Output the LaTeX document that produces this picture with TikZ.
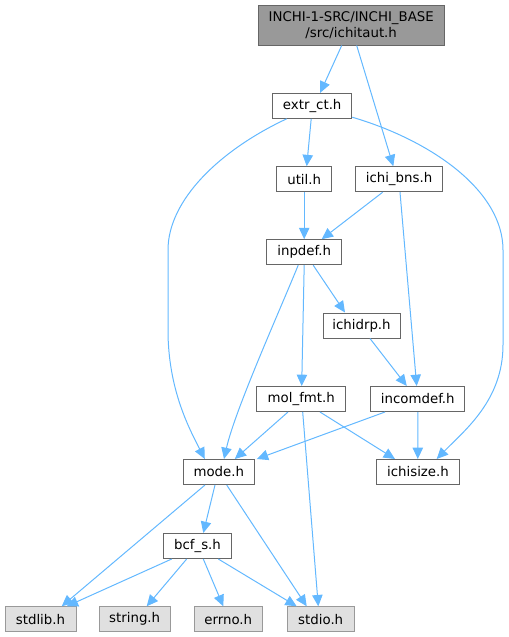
\documentclass[tikz,border=0pt]{standalone}
\usepackage{fontspec}
\setmainfont{DejaVu Sans}
\usetikzlibrary{arrows.meta,calc}
\definecolor{edgec}{HTML}{63B8FF}
\definecolor{rootfill}{HTML}{999999}
\definecolor{darkb}{HTML}{666666}
\definecolor{leaffill}{HTML}{E0E0E0}
\definecolor{leafb}{HTML}{999999}
\tikzset{
  filebox/.style={draw=darkb, fill=white, line width=0.75pt, inner sep=0pt,
    minimum height=18.75pt, font=\fontsize{10pt}{12pt}\selectfont},
  rootbox/.style={filebox, fill=rootfill, minimum height=30pt, align=center},
  leafbox/.style={filebox, draw=leafb, fill=leaffill},
  edge/.style={draw=edgec, line width=0.75pt,
    -{Triangle[length=8.5pt,width=7.8pt,fill=edgec]}},
}
\begin{document}
\begin{tikzpicture}[x=0.75pt,y=-0.75pt]
\useasboundingbox (0,0) rectangle (509,637);
\node[rootbox, minimum width=139.3pt] (root) at (351.2,25) {INCHI-1-SRC/INCHI\_BASE\\/src/ichitaut.h};
\node[filebox, minimum width=59.25pt] (extr) at (312.2,105.8) {extr\_ct.h};
\node[filebox, minimum width=41.25pt] (util) at (304.2,179.2) {util.h};
\node[filebox, minimum width=65pt] (bns) at (399,179.2) {ichi\_bns.h};
\node[filebox, minimum width=56.25pt] (inpdef) at (304.2,252.2) {inpdef.h};
\node[filebox, minimum width=57.75pt] (ichidrp) at (361.5,325.5) {ichidrp.h};
\node[filebox, minimum width=67pt] (molfmt) at (301.3,399) {mol\_fmt.h};
\node[filebox, minimum width=70.7pt] (incomdef) at (417.8,399) {incomdef.h};
\node[filebox, minimum width=53.25pt] (mode) at (218.8,472) {mode.h};
\node[filebox, minimum width=62pt] (ichisize) at (418,472) {ichisize.h};
\node[filebox, minimum width=51.3pt] (bcfs) at (197.5,546) {bcf\_s.h};
\node[leafbox, minimum width=53.25pt] (stdlib) at (40.5,619.3) {stdlib.h};
\node[leafbox, minimum width=53pt] (string) at (134.7,619.3) {string.h};
\node[leafbox, minimum width=51pt] (errno) at (228.3,619.3) {errno.h};
\node[leafbox, minimum width=50pt] (stdio) at (320.7,619.3) {stdio.h};

\draw[edge] ($(root.south)+(-9.5,0)$) -- ($(extr.north)+(8,0)$);
\draw[edge] ($(root.south)+(5.5,0)$) -- ($(bns.north)+(-5.7,0)$);
\draw[edge] ($(extr.south)+(-1,0)$) -- ($(util.north)+(2.5,0)$);
\draw[edge] ($(extr.south)+(-25.5,0)$) .. controls (220,150) and (168,200) .. (168,250)
  -- (168,330) .. controls (168,390) and (190,430) .. ($(mode.north)+(-14,0)$);
\draw[edge] ($(extr.south east)+(0,-1.6)$) .. controls (430,140) and (503,190) .. (503,250)
  -- (503,345) .. controls (503,400) and (465,430) .. ($(ichisize.north)+(18.7,0)$);
\draw[edge] (util.south) -- (inpdef.north);
\draw[edge] ($(bns.south)+(-16.3,0)$) -- ($(inpdef.north)+(17.5,0)$);
\draw[edge] ($(bns.south)+(1,0)$) -- ($(incomdef.north)+(-1.1,0)$);
\draw[edge] ($(inpdef.south)+(9,0)$) -- ($(ichidrp.north)+(-16.5,0)$);
\draw[edge] (inpdef.south) -- ($(molfmt.north)+(0.4,0)$);
\draw[edge] ($(inpdef.south)+(-6,0)$) .. controls (280,310) and (235,410) .. ($(mode.north)+(5.2,0)$);
\draw[edge] ($(ichidrp.south)+(8.5,0)$) -- ($(incomdef.north)+(-11,0)$);
\draw[edge] ($(molfmt.south)+(-13.3,0)$) -- ($(mode.north)+(16,0)$);
\draw[edge] ($(molfmt.south)+(18.7,0)$) -- ($(ichisize.north)+(-23,0)$);
\draw[edge] ($(molfmt.south)+(1.4,0)$) -- ($(stdio.north)+(-2.4,0)$);
\draw[edge] ($(incomdef.south)+(-32.8,0)$) -- ($(mode.north)+(38,0)$);
\draw[edge] (incomdef.south) -- ($(ichisize.north)+(-0.2,0)$);
\draw[edge] ($(mode.south)+(-3.8,0)$) -- ($(bcfs.north)+(5.8,0)$);
\draw[edge] ($(mode.south)+(-13.8,0)$) -- ($(stdlib.north)+(21.2,0)$);
\draw[edge] ($(mode.south)+(7.9,0)$) -- ($(stdio.north)+(-14,0)$);
\draw[edge] ($(bcfs.south)+(-25.8,0)$) -- ($(stdlib.north)+(26.2,0)$);
\draw[edge] ($(bcfs.south)+(-10.8,0)$) -- ($(string.north)+(12,0)$);
\draw[edge] ($(bcfs.south)+(5.8,0)$) -- ($(errno.north)+(-5,0)$);
\draw[edge] ($(bcfs.south)+(20.8,0)$) -- ($(stdio.north)+(-24,0)$);
\end{tikzpicture}
\end{document}
